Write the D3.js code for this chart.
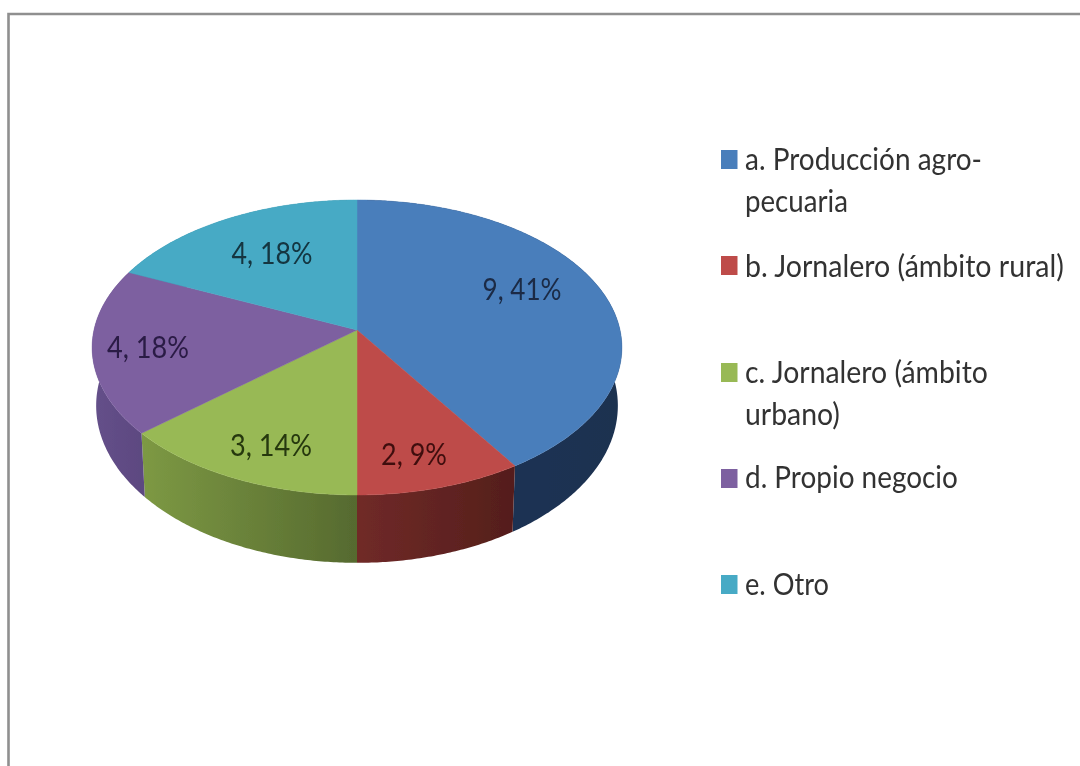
<!DOCTYPE html>
<html><head><meta charset="utf-8">
<script src="https://cdn.jsdelivr.net/npm/d3@7/dist/d3.min.js"></script>
<style>html,body{margin:0;padding:0;background:#fff;overflow:hidden}svg{display:block}
text{font-family:Lato,"Open Sans",sans-serif;font-size:30px}</style></head>
<body><svg id="c" width="1080" height="766"></svg>
<script>
const categories = ["a. Producción agro-pecuaria","b. Jornalero (ámbito rural)","c. Jornalero (ámbito urbano)","d. Propio negocio","e. Otro"];
const values = [9,2,3,4,4];
const percents = [41,9,14,18,18];
const topColors = ["#4a7ebb","#be4b48","#98b954","#7d60a0","#46aac5"];
const sideFrom = ["#1d3557","#702a28","#7d9944","#65508a","#2f7f95"];
const sideTo = ["#1b3050","#541e1b","#566a2f","#5c4880","#2f7f95"];
const labelColors = ["#1a2a45","#3f0f0f","#26380f","#2a1a45","#12343f"];
const legendLines = [["a. Producción agro-","pecuaria"],["b. Jornalero (ámbito rural)"],["c. Jornalero (ámbito","urbano)"],["d. Propio negocio"],["e. Otro"]];
// layout constants
const legendY = [160,266,373,479,585];
const legendBase = [[170,212],[277],[383,425],[488],[595]];
const legendWidth = [[237,103],[319],[243,95],[213],[84]];
const labelPos = [[522,300],[414,465],[271,456],[148,358],[272,264]];
const labelWidth = [79,66,82,82,81];

const svg = d3.select("#c");
const defs = svg.append("defs");
defs.append("filter").attr("id","soft").attr("x","-5%").attr("y","-5%").attr("width","110%").attr("height","110%")
  .append("feGaussianBlur").attr("stdDeviation",0.6);
values.forEach((_,i)=>{
  const g = defs.append("linearGradient").attr("id","side"+i);
  g.append("stop").attr("offset","0%").attr("stop-color",sideFrom[i]);
  g.append("stop").attr("offset","100%").attr("stop-color",sideTo[i]);
});
svg.append("path").attr("d","M8.5,768V14H1082").attr("fill","none").attr("stroke","#8f8f8f").attr("stroke-width",2.6).attr("filter","url(#soft)");

const persp = 0.1186;
const topX = d3.scaleLinear().domain([-1,1]).range([357-263,357+263]);
const topY = d3.scaleLinear().domain([-1,1]).range([330-145.4,330+145.4]);
const botX = d3.scaleLinear().domain([-1,1]).range([357-259,357+259]);
const botY = d3.scaleLinear().domain([-1,1]).range([387-155,387+155]);
// a: clockwise angle from the top of the pie; front of the pie is a = PI
const project = (a,sx,sy)=>{const u=Math.sin(a),v=-Math.cos(a),den=1-persp*v;return [sx(u/den),sy(v/den)];};
const arcPts = (s,e,sx,sy)=>{const n=Math.max(2,Math.ceil((e-s)/0.01));return d3.range(n+1).map(i=>project(s+(e-s)*i/n,sx,sy));};
const line = d3.line();
const arcs = d3.pie().sort(null)(values);
const pie = svg.append("g").attr("filter","url(#soft)");
pie.selectAll("path.side").data(arcs).join("path").attr("class","side")
  .attr("d",d=>line(arcPts(d.startAngle,d.endAngle,topX,topY).concat(arcPts(d.startAngle,d.endAngle,botX,botY).reverse()))+"Z")
  .attr("fill",(d,i)=>`url(#side${i})`);
pie.selectAll("path.top").data(arcs).join("path").attr("class","top")
  .attr("d",d=>line([[topX(0),topY(0)]].concat(arcPts(d.startAngle,d.endAngle,topX,topY)))+"Z")
  .attr("fill",(d,i)=>topColors[i]).attr("stroke",(d,i)=>topColors[i]).attr("stroke-width",0.5);

// text squeezed horizontally, as in the stretched original
const put=(x,y,t,fill,anchor,w)=>{
  const el=svg.append("text").attr("text-anchor",anchor).attr("fill",fill).attr("filter","url(#soft)").text(t);
  const k=w/el.node().getComputedTextLength();
  el.attr("transform",`translate(${x},${y}) scale(${k},1)`);
};
values.forEach((v,i)=>put(labelPos[i][0],labelPos[i][1],`${v}, ${percents[i]}%`,labelColors[i],"middle",labelWidth[i]));
categories.forEach((c,i)=>{
  svg.append("rect").attr("x",721).attr("y",legendY[i]-10).attr("width",16.5).attr("height",19).attr("fill",topColors[i]).attr("filter","url(#soft)");
  legendLines[i].forEach((t,j)=>put(745,legendBase[i][j],t,"#333","start",legendWidth[i][j]));
});
</script></body></html>
